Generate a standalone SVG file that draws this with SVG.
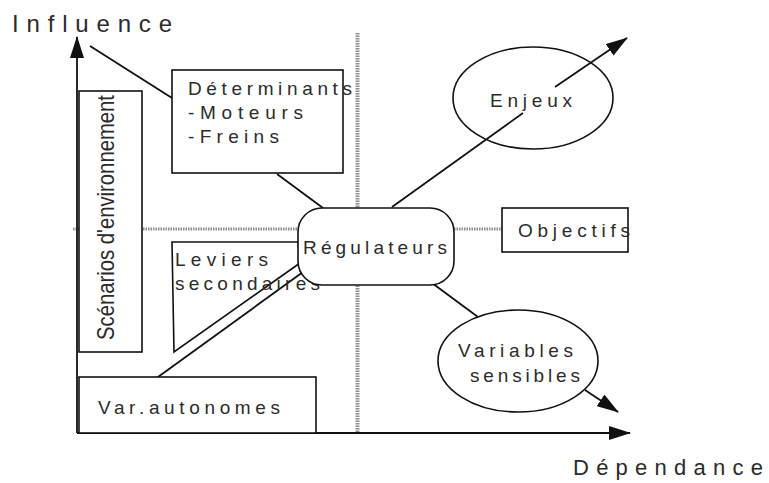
<svg xmlns="http://www.w3.org/2000/svg" width="769" height="483" viewBox="0 0 769 483">
<style>
  .box { fill: #fff; stroke: #111; stroke-width: 1.6; }
  .ln { fill: none; stroke: #111; stroke-width: 1.8; }
  .grey { fill: none; stroke: #8c8c8c; stroke-dasharray: 1.5 1; }
  text { font-family: "Liberation Sans", Arial, sans-serif; fill: #2b2b2b; }
  .lbl { font-size: 19px; }
</style>
<defs>
  <marker id="ah" viewBox="0 0 22 14" refX="21" refY="7" markerWidth="22" markerHeight="14" markerUnits="userSpaceOnUse" orient="auto">
    <path d="M0,0 L22,7 L0,14 z" fill="#111"/>
  </marker>
</defs>
<rect width="769" height="483" fill="#fff"/>

<g id="quadrants">
  <line class="grey" x1="357.5" y1="33" x2="357.5" y2="433" stroke-width="4"/>
  <line class="grey" x1="73" y1="229" x2="298" y2="229" stroke-width="3"/>
  <line class="grey" x1="454" y1="229" x2="502" y2="229" stroke-width="3"/>
</g>

<g id="connectors">
  <line class="ln" x1="77" y1="433" x2="77" y2="37" marker-end="url(#ah)"/>
  <line class="ln" x1="77" y1="433" x2="630" y2="433" marker-end="url(#ah)"/>
  <line class="ln" x1="90" y1="46" x2="172" y2="98"/>
  <line class="ln" x1="277" y1="174" x2="323" y2="208"/>
  <line class="ln" x1="392" y1="207" x2="523" y2="113"/>
  <line class="ln" x1="555" y1="87" x2="627" y2="38" marker-end="url(#ah)"/>
  <line class="ln" x1="432" y1="283" x2="478" y2="317"/>
  <line class="ln" x1="585" y1="390" x2="618" y2="412" marker-end="url(#ah)"/>
  <line class="ln" x1="158" y1="377" x2="303" y2="272"/>
</g>

<g id="axis-labels">
  <text x="12" y="32" font-size="24" textLength="160" lengthAdjust="spacing">Influence</text>
  <text x="573" y="475" font-size="22" textLength="190" lengthAdjust="spacing">Dépendance</text>
</g>

<g id="scenarios">
  <rect class="box" x="79" y="91" width="63" height="261"/>
  <text transform="translate(114,340) rotate(-90)" font-size="24" textLength="245" lengthAdjust="spacingAndGlyphs">Scénarios  d'environnement</text>
</g>

<g id="determinants">
  <rect class="box" x="172" y="70" width="171" height="103"/>
  <text class="lbl" x="188" y="95" textLength="164" lengthAdjust="spacing">Déterminants</text>
  <text class="lbl" x="188" y="119" textLength="115" lengthAdjust="spacing">-Moteurs</text>
  <text class="lbl" x="188" y="143" textLength="91" lengthAdjust="spacing">-Freins</text>
</g>

<g id="leviers">
  <polygon class="box" points="172,242 298,242 300,263 174,352"/>
  <text class="lbl" x="175" y="266" textLength="93" lengthAdjust="spacing">Leviers</text>
  <text class="lbl" x="175" y="290" textLength="145" lengthAdjust="spacing">secondaires</text>
</g>

<g id="var-autonomes">
  <rect class="box" x="79" y="377" width="237" height="56"/>
  <text class="lbl" x="98" y="414" textLength="182" lengthAdjust="spacing">Var.autonomes</text>
</g>

<g id="regulateurs">
  <rect class="box" x="298" y="208" width="156" height="77" rx="24"/>
  <text class="lbl" x="303" y="254" textLength="144" lengthAdjust="spacing">Régulateurs</text>
</g>

<g id="enjeux">
  <ellipse fill="none" stroke="#111" stroke-width="1.6" cx="533" cy="98" rx="80" ry="51"/>
  <text class="lbl" x="490" y="107" textLength="82" lengthAdjust="spacing">Enjeux</text>
</g>

<g id="objectifs">
  <rect class="box" x="502" y="208" width="126" height="44"/>
  <text class="lbl" x="518" y="237" textLength="112" lengthAdjust="spacing">Objectifs</text>
</g>

<g id="variables-sensibles">
  <ellipse class="box" cx="518" cy="361" rx="80" ry="51"/>
  <text class="lbl" x="458" y="357" textLength="115" lengthAdjust="spacing">Variables</text>
  <text class="lbl" x="470" y="382" textLength="110" lengthAdjust="spacing">sensibles</text>
</g>
</svg>
